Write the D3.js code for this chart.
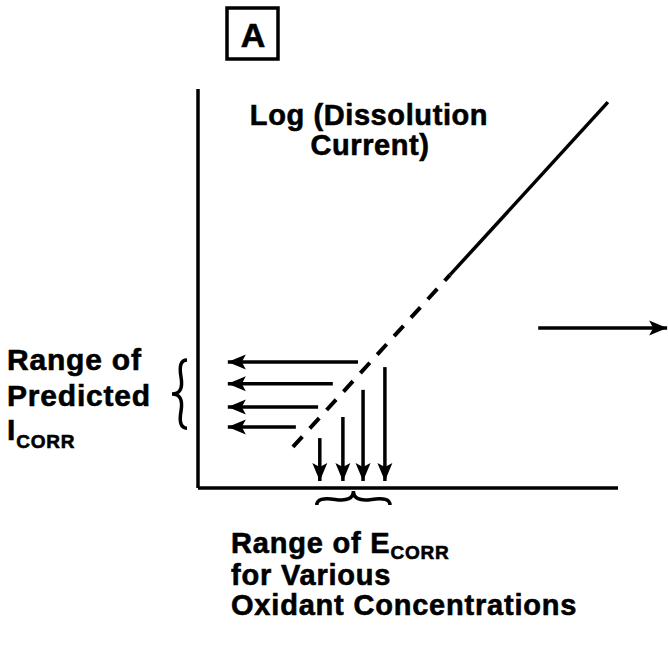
<html>

<head>
    <title>Log (Dissolution Current) - Range of Ecorr</title>
    <style>
        body {
            margin: 0;
            background: white;
        }

        text {
            font-family: "Liberation Sans", Arial, Helvetica, sans-serif;
            font-weight: bold;
            fill: black;
            stroke: black;
            stroke-width: 0.6px;
        }
    </style>
</head>

<body>
    <div id="my_dataviz"></div>
</body>

<script src="https://d3js.org/d3.v7.min.js"></script>

<script>

    // polarization line (E, log i) in arbitrary units
    var dashedPart = [[22.6, 10.3], [60.0, 53.4]];
    var solidPart = [[60.0, 53.4], [97.6, 96.7]];

    // left pointing arrows: predicted i_corr values
    var icorrLevels = [31.6, 26.1, 20.3, 15.3];
    var icorrStartE = [38.1, 32.1, 28.6, 23.3];
    var icorrTipE = 7.1;

    // down pointing arrows: E_corr values
    var ecorrValues = [29.0, 34.5, 39.3, 44.5];
    var ecorrStartI = [12.5, 17.8, 24.6, 30.3];
    var ecorrTipI = 1.75;

    // ranges covered by the braces
    var icorrRange = [15.0, 32.1];
    var ecorrRange = [28.3, 45.7];

    // arrow pointing to next panel
    var nextArrow = [[81.0, 40.1], [111.7, 40.1]];

    var width = 668,
        height = 650;

    var svg = d3.select("#my_dataviz")
        .append("svg")
        .attr("width", width)
        .attr("height", height);

    var x = d3.scaleLinear()
        .domain([0, 100])
        .range([198, 618]);

    var y = d3.scaleLinear()
        .domain([0, 100])
        .range([488, 89]);

    // arrow head
    svg.append("defs")
        .append("marker")
        .attr("id", "head")
        .attr("markerUnits", "userSpaceOnUse")
        .attr("viewBox", "-1 -8 21 16")
        .attr("markerWidth", 21)
        .attr("markerHeight", 16)
        .attr("refX", 18)
        .attr("refY", 0)
        .attr("orient", "auto")
        .append("path")
        .attr("d", "M0,-7.5 L18,0 L0,7.5 L4,0 Z")
        .style("fill", "black");

    // axes (no ticks)
    svg.append("line")
        .attr("x1", x(0)).attr("x2", x(0))
        .attr("y1", y(100)).attr("y2", y(0))
        .attr("stroke", "black")
        .attr("stroke-width", 3.5);

    svg.append("line")
        .attr("x1", x(0)).attr("x2", x(100))
        .attr("y1", y(0)).attr("y2", y(0))
        .attr("stroke", "black")
        .attr("stroke-width", 3.5);

    var line = d3.line()
        .x(function (d) { return x(d[0]); })
        .y(function (d) { return y(d[1]); });

    svg.append("path")
        .datum(solidPart)
        .attr("d", line)
        .attr("fill", "none")
        .attr("stroke", "black")
        .attr("stroke-width", 3.5);

    svg.append("path")
        .datum(dashedPart)
        .attr("d", line)
        .attr("fill", "none")
        .attr("stroke", "black")
        .attr("stroke-width", 4)
        .attr("stroke-dasharray", "14, 11");

    // predicted icorr arrows
    svg.append("g")
        .selectAll("line")
        .data(icorrLevels)
        .enter()
        .append("line")
        .attr("x1", function (d, i) { return x(icorrStartE[i]); })
        .attr("x2", x(icorrTipE))
        .attr("y1", function (d) { return y(d); })
        .attr("y2", function (d) { return y(d); })
        .attr("stroke", "black")
        .attr("stroke-width", 3.5)
        .attr("marker-end", "url(#head)");

    // ecorr arrows
    svg.append("g")
        .selectAll("line")
        .data(ecorrValues)
        .enter()
        .append("line")
        .attr("x1", function (d) { return x(d); })
        .attr("x2", function (d) { return x(d); })
        .attr("y1", function (d, i) { return y(ecorrStartI[i]); })
        .attr("y2", y(ecorrTipI))
        .attr("stroke", "black")
        .attr("stroke-width", 3.5)
        .attr("marker-end", "url(#head)");

    svg.append("line")
        .attr("x1", x(nextArrow[0][0])).attr("x2", x(nextArrow[1][0]))
        .attr("y1", y(nextArrow[0][1])).attr("y2", y(nextArrow[1][1]))
        .attr("stroke", "black")
        .attr("stroke-width", 3.5)
        .attr("marker-end", "url(#head)");

    // curly brace between two points, bulge w
    function brace(x1, y1, x2, y2, w, q) {
        var dx = x1 - x2, dy = y1 - y2;
        var len = Math.sqrt(dx * dx + dy * dy);
        dx = dx / len; dy = dy / len;
        var qx1 = x1 + q * w * dy, qy1 = y1 - q * w * dx;
        var qx2 = (x1 - .25 * len * dx) + (1 - q) * w * dy, qy2 = (y1 - .25 * len * dy) - (1 - q) * w * dx;
        var tx1 = (x1 - .5 * len * dx) + w * dy, ty1 = (y1 - .5 * len * dy) - w * dx;
        var qx3 = x2 + q * w * dy, qy3 = y2 - q * w * dx;
        var qx4 = (x1 - .75 * len * dx) + (1 - q) * w * dy, qy4 = (y1 - .75 * len * dy) - (1 - q) * w * dx;
        return "M" + x1 + " " + y1 + " Q" + qx1 + " " + qy1 + " " + qx2 + " " + qy2 + " T" + tx1 + " " + ty1 +
            " M" + x2 + " " + y2 + " Q" + qx3 + " " + qy3 + " " + qx4 + " " + qy4 + " T" + tx1 + " " + ty1;
    }

    svg.append("path")
        .attr("d", brace(187, y(icorrRange[1]), 187, y(icorrRange[0]), 15, 0.6))
        .attr("fill", "none")
        .attr("stroke", "black")
        .attr("stroke-width", 3.5);

    svg.append("path")
        .attr("d", brace(x(ecorrRange[1]), 505, x(ecorrRange[0]), 505, 14, 0.6))
        .attr("fill", "none")
        .attr("stroke", "black")
        .attr("stroke-width", 3.5);

    // panel label
    svg.append("rect")
        .attr("x", 227).attr("y", 8)
        .attr("width", 51).attr("height", 51)
        .attr("fill", "none")
        .attr("stroke", "black")
        .attr("stroke-width", 3.5);

    svg.append("text")
        .attr("x", 253).attr("y", 47)
        .attr("text-anchor", "middle")
        .style("font-size", "34px")
        .text("A");

    // y label
    var ylab = svg.append("text")
        .attr("text-anchor", "middle")
        .style("font-size", "29px")
        .style("letter-spacing", "0.6px");
    ylab.append("tspan").attr("x", 369).attr("y", 125).text("Log (Dissolution");
    ylab.append("tspan").attr("x", 370).attr("y", 155).text("Current)");

    // left label
    var left = svg.append("text")
        .style("font-size", "30px")
        .style("letter-spacing", "0.8px");
    left.append("tspan").attr("x", 7).attr("y", 370).text("Range of");
    left.append("tspan").attr("x", 7).attr("y", 406).text("Predicted");
    left.append("tspan").attr("x", 7).attr("y", 440).text("I");
    left.append("tspan").attr("dy", 8).style("font-size", "19px").text("CORR");

    // bottom label
    var bottom = svg.append("text")
        .style("font-size", "29px")
        .style("letter-spacing", "0.8px");
    bottom.append("tspan").attr("x", 231).attr("y", 553).text("Range of E");
    bottom.append("tspan").attr("dy", 6).style("font-size", "19px").text("CORR");
    bottom.append("tspan").attr("x", 231).attr("y", 585).text("for Various");
    bottom.append("tspan").attr("x", 231).attr("y", 615).text("Oxidant Concentrations");

</script>

</html>
